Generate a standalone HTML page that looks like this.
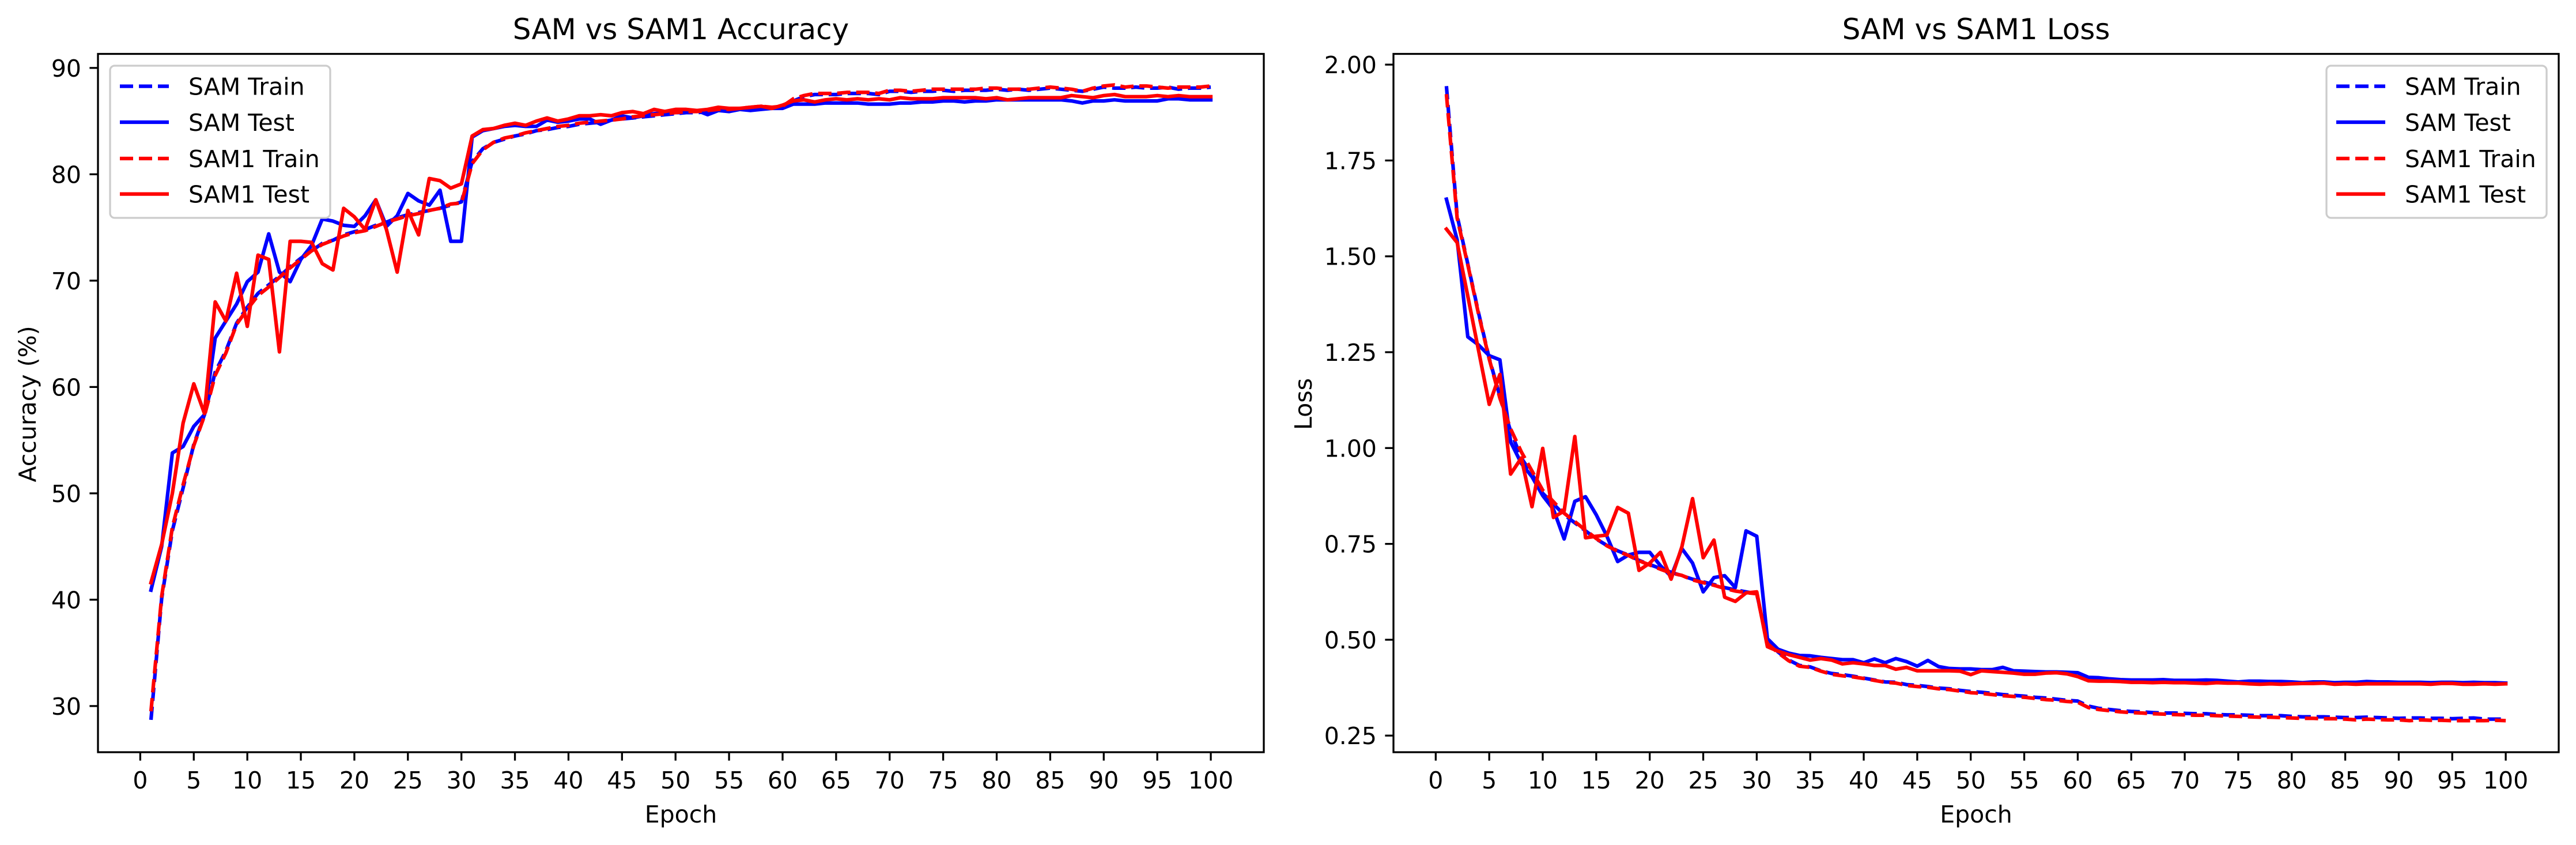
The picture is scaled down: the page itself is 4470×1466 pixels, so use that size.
<!DOCTYPE html>
<html><head><meta charset="utf-8"><style>
html,body{margin:0;padding:0;background:#fff}
svg{display:block}
text{font-family:"DejaVu Sans","Liberation Sans",sans-serif;fill:#000}
</style></head><body>
<svg id="fig" width="4470" height="1466" viewBox="0 0 4470 1466" xmlns="http://www.w3.org/2000/svg"></svg>
<script>
const epochs = Array.from({length:100},(_,i)=>i+1);
const xTicks = [0,5,10,15,20,25,30,35,40,45,50,55,60,65,70,75,80,85,90,95,100];
const accTicks = [30,40,50,60,70,80,90];
const lossTicks = [0.25,0.50,0.75,1.00,1.25,1.50,1.75,2.00];
const seriesNames = ["SAM Train","SAM Test","SAM1 Train","SAM1 Test"];

const samTrainAcc = [28.7,40.1,46.5,50.5,54.6,57.4,61.4,63.4,66,67.5,68.8,69.6,70.4,71.3,72.1,72.8,73.5,73.8,74.3,74.6,74.8,75.2,75.5,75.9,76.2,76.4,76.6,76.8,77.1,77.4,81.2,82.4,83,83.3,83.6,83.8,84.1,84.2,84.4,84.5,84.7,84.8,84.9,85.1,85.2,85.3,85.4,85.5,85.6,85.7,85.8,85.8,85.9,86,86,86.1,86.1,86.2,86.2,86.3,86.9,87.3,87.5,87.5,87.5,87.6,87.6,87.6,87.5,87.8,87.8,87.7,87.8,87.8,87.9,87.8,87.9,87.9,87.9,88,87.9,88,87.9,88,88.1,88,87.9,87.8,88,88.2,88.1,88.1,88.2,88.1,88.1,88.2,88,88.1,88.1,88.2];
const samTestAcc = [40.9,45,53.8,54.4,56.3,57.4,64.6,66.2,67.8,69.9,70.8,74.4,70.8,69.9,72,73.3,75.8,75.6,75.2,75.1,76.1,77.6,75.1,76.1,78.2,77.5,77.1,78.5,73.7,73.7,83.5,84.1,84.3,84.5,84.6,84.5,84.5,85.1,84.9,85,85.2,85.2,84.7,85.1,85.5,85.3,85.5,85.7,85.8,85.8,85.8,86,85.6,86,85.9,86.1,86,86.1,86.2,86.2,86.6,86.6,86.6,86.7,86.7,86.7,86.7,86.6,86.6,86.6,86.7,86.7,86.8,86.8,86.9,86.9,86.8,86.9,86.9,87,87,87,87,87,87,87,86.9,86.7,86.9,86.9,87,86.9,86.9,86.9,86.9,87.1,87.1,87,87,87];
const sam1TrainAcc = [29.5,40.3,46.8,50.8,54.5,57.3,61.1,63.2,65.9,67.3,68.6,69.4,70.3,71.2,72,72.8,73.4,73.8,74.2,74.5,74.7,75.1,75.5,75.8,76.1,76.3,76.6,76.8,77.2,77.3,81,82.3,83,83.4,83.6,83.9,84.1,84.3,84.5,84.6,84.8,84.9,85,85.1,85.2,85.4,85.5,85.6,85.7,85.8,85.9,85.9,86,86.1,86.1,86.2,86.3,86.4,86.3,86.4,87.1,87.4,87.6,87.6,87.6,87.7,87.7,87.7,87.6,87.9,87.9,87.8,87.9,88,88,88,88,88,88.1,88.1,88,88,88,88.1,88.2,88.1,88,87.8,88.1,88.3,88.4,88.2,88.3,88.3,88.2,88.1,88.2,88.2,88.2,88.3];
const sam1TestAcc = [41.6,45.2,50,56.6,60.3,57.5,68,66.2,70.7,65.7,72.4,72,63.3,73.7,73.7,73.6,71.6,71,76.8,76,74.8,77.6,74.8,70.8,76.6,74.3,79.6,79.4,78.7,79.1,83.6,84.2,84.3,84.6,84.8,84.6,85,85.3,85,85.2,85.5,85.5,85.6,85.5,85.8,85.9,85.7,86.1,85.9,86.1,86.1,86,86.1,86.3,86.2,86.2,86.3,86.4,86.2,86.5,86.9,87,86.8,87,87.1,87,87.1,87,87.1,87,87.2,87.1,87.1,87.1,87.2,87.2,87.2,87.2,87.1,87.2,87,87.1,87.2,87.2,87.2,87.2,87.4,87.3,87.2,87.4,87.5,87.3,87.3,87.3,87.4,87.3,87.4,87.3,87.3,87.3];

const samTrainLoss = [1.944,1.606,1.48,1.353,1.234,1.135,1.044,0.974,0.932,0.882,0.854,0.826,0.805,0.784,0.763,0.746,0.732,0.721,0.707,0.696,0.686,0.676,0.667,0.658,0.651,0.644,0.636,0.63,0.625,0.62,0.496,0.468,0.447,0.433,0.429,0.419,0.412,0.409,0.405,0.4,0.395,0.39,0.389,0.383,0.381,0.378,0.374,0.372,0.368,0.365,0.363,0.36,0.357,0.355,0.353,0.35,0.348,0.345,0.342,0.34,0.327,0.321,0.318,0.315,0.313,0.312,0.31,0.309,0.309,0.308,0.307,0.307,0.305,0.304,0.304,0.303,0.302,0.302,0.302,0.3,0.299,0.299,0.299,0.298,0.297,0.297,0.298,0.297,0.296,0.295,0.296,0.296,0.295,0.295,0.294,0.295,0.296,0.293,0.293,0.293];
const samTestLoss = [1.649,1.543,1.29,1.269,1.241,1.23,1.016,0.96,0.925,0.876,0.84,0.763,0.861,0.873,0.826,0.77,0.704,0.721,0.728,0.728,0.693,0.665,0.738,0.7,0.625,0.662,0.667,0.636,0.784,0.77,0.503,0.475,0.465,0.459,0.458,0.454,0.451,0.448,0.448,0.44,0.45,0.44,0.451,0.443,0.431,0.446,0.43,0.425,0.424,0.424,0.422,0.422,0.428,0.419,0.418,0.417,0.416,0.416,0.415,0.414,0.402,0.401,0.398,0.396,0.395,0.395,0.395,0.396,0.394,0.394,0.394,0.395,0.394,0.392,0.39,0.392,0.392,0.391,0.391,0.39,0.388,0.39,0.39,0.388,0.389,0.389,0.391,0.39,0.39,0.389,0.389,0.389,0.388,0.389,0.389,0.388,0.389,0.388,0.388,0.387];
const sam1TrainLoss = [1.923,1.6,1.478,1.35,1.232,1.13,1.05,0.99,0.94,0.89,0.86,0.83,0.808,0.786,0.764,0.745,0.731,0.72,0.706,0.695,0.684,0.674,0.668,0.656,0.649,0.642,0.634,0.627,0.623,0.62,0.49,0.466,0.445,0.431,0.428,0.418,0.41,0.406,0.403,0.399,0.394,0.389,0.387,0.381,0.378,0.376,0.372,0.37,0.366,0.362,0.36,0.357,0.354,0.352,0.35,0.347,0.344,0.342,0.339,0.337,0.323,0.318,0.315,0.312,0.31,0.309,0.307,0.306,0.305,0.304,0.303,0.303,0.302,0.301,0.3,0.299,0.298,0.298,0.297,0.296,0.295,0.295,0.294,0.294,0.293,0.291,0.293,0.292,0.291,0.291,0.289,0.291,0.29,0.29,0.289,0.289,0.289,0.289,0.29,0.289];
const sam1TestLoss = [1.571,1.536,1.396,1.255,1.114,1.192,0.932,0.974,0.847,0.999,0.819,0.836,1.03,0.766,0.77,0.773,0.845,0.83,0.681,0.7,0.728,0.658,0.742,0.868,0.714,0.76,0.611,0.6,0.622,0.625,0.482,0.47,0.461,0.454,0.447,0.451,0.447,0.437,0.44,0.437,0.433,0.433,0.423,0.428,0.419,0.419,0.419,0.419,0.418,0.409,0.419,0.417,0.415,0.413,0.41,0.41,0.413,0.414,0.411,0.404,0.393,0.392,0.392,0.391,0.389,0.389,0.388,0.389,0.388,0.388,0.387,0.386,0.388,0.387,0.387,0.385,0.384,0.385,0.384,0.385,0.386,0.386,0.387,0.384,0.385,0.384,0.385,0.385,0.385,0.385,0.385,0.385,0.384,0.386,0.386,0.384,0.384,0.385,0.384,0.385];

const NS="http://www.w3.org/2000/svg";
const svg=document.getElementById('fig');
function mk(tag,attrs,parent){const e=document.createElementNS(NS,tag);for(const k in attrs)e.setAttribute(k,attrs[k]);(parent||svg).appendChild(e);return e;}

function drawPanel(cfg){
  const g=mk('g',{});
  
  
  const L=cfg.left,R=cfg.right,T=93.5,B=1305;
  const xs=v=>L+(v-(-3.95))/(104.95-(-3.95))*(R-L);
  const ys=v=>T+(cfg.ymax-v)/(cfg.ymax-cfg.ymin)*(B-T);
  // series
  const cols=['#0000ff','#0000ff','#ff0000','#ff0000'];
  const dash=[true,false,true,false];
  cfg.series.forEach((arr,si)=>{
    const d=arr.map((v,i)=>(i?'L':'M')+xs(epochs[i]).toFixed(1)+' '+ys(v).toFixed(1)).join(' ');
    const p=mk('path',{d:d,fill:'none',stroke:cols[si],'stroke-width':6.25,'stroke-linejoin':'round','stroke-linecap':dash[si]?'butt':'square'},g);
    if(dash[si])p.setAttribute('stroke-dasharray','23 10');
    
    
  });
  const fr=mk('rect',{x:L,y:T,width:R-L,height:B-T,fill:'none',stroke:'#000','stroke-width':3.3},g);
  
  
  xTicks.forEach(t=>{
    const x=xs(t);
    mk('line',{x1:x,y1:B,x2:x,y2:B+14.6,stroke:'#000','stroke-width':3.3},g);
    const tx=mk('text',{x:x,y:1368,'font-size':41,'text-anchor':'middle'},g);
    tx.textContent=t;
    
    
  });
  cfg.yticks.forEach(t=>{
    const y=ys(t);
    mk('line',{x1:L,y1:y,x2:L-14.6,y2:y,stroke:'#000','stroke-width':3.3},g);
    const tx=mk('text',{x:L-29,y:y+15,'font-size':41,'text-anchor':'end'},g);
    tx.textContent=cfg.fmt(t);
    
    
  });
  const ti=mk('text',{x:(L+R)/2,y:68,'font-size':50,'text-anchor':'middle'},g);
  ti.textContent=cfg.title;
  
  
  const xl=mk('text',{x:(L+R)/2,y:1427,'font-size':41,'text-anchor':'middle'},g);
  xl.textContent='Epoch';
  
  
  const yl=mk('text',{x:0,y:0,'font-size':41,'text-anchor':'middle',transform:`translate(${cfg.ylx},701) rotate(-90)`},g);
  yl.textContent=cfg.ylabel;
  
  
  // legend
  const lx=cfg.legX, lw=382;
  const lg=mk('g',{},g);
  
  
  mk('rect',{x:lx,y:114,width:lw,height:264,rx:8,fill:'#fff','fill-opacity':0.8,stroke:'#cccccc','stroke-width':3.3},lg);
  const rows=[149.6,212,275,336.6];
  seriesNames.forEach((n,i)=>{
    const ln=mk('line',{x1:lx+17,y1:rows[i],x2:lx+102,y2:rows[i],stroke:cols[i],'stroke-width':6.25},lg);
    if(dash[i])ln.setAttribute('stroke-dasharray','23 10');
    
    
    const tx=mk('text',{x:lx+136,y:rows[i]+15,'font-size':41},lg);
    tx.textContent=n;
    
    
  });
}
drawPanel({name:'accuracy-chart',left:170,right:2193,ymin:25.66,ymax:91.32,yticks:accTicks,fmt:t=>String(t),
  title:'SAM vs SAM1 Accuracy',ylabel:'Accuracy (%)',ylx:62,legX:191,
  series:[samTrainAcc,samTestAcc,sam1TrainAcc,sam1TestAcc]});
drawPanel({name:'loss-chart',left:2418,right:4440,ymin:0.2067,ymax:2.028,yticks:lossTicks,fmt:t=>t.toFixed(2),
  title:'SAM vs SAM1 Loss',ylabel:'Loss',ylx:2276,legX:4037,
  series:[samTrainLoss,samTestLoss,sam1TrainLoss,sam1TestLoss]});
</script>
</body></html>
